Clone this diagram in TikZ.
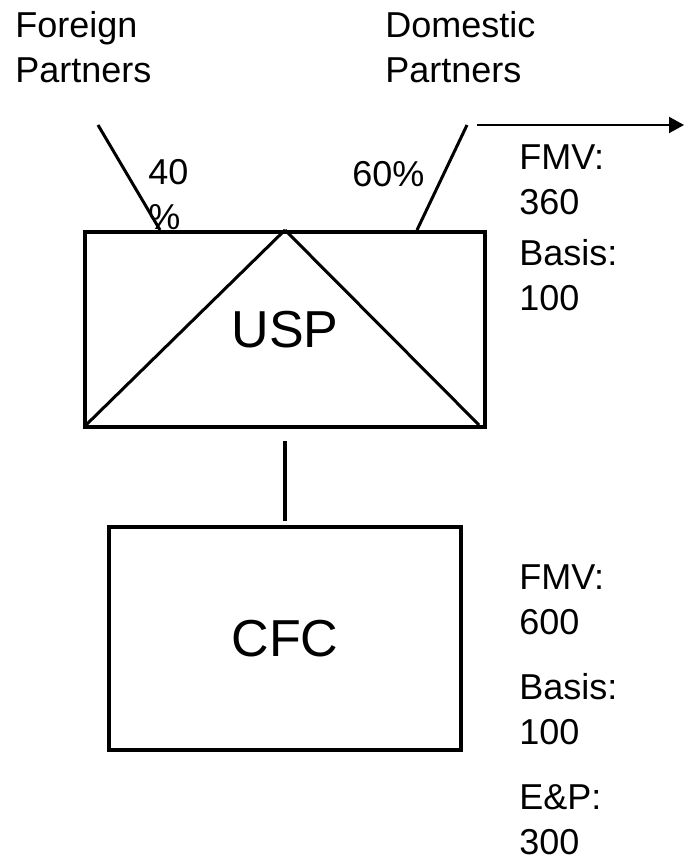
\documentclass[tikz,border=0pt]{standalone}
\usepackage{fontspec}
\setmainfont{Liberation Sans}
\usetikzlibrary{positioning,arrows.meta}

\begin{document}
\begin{tikzpicture}[x=0.5pt, y=-0.5pt]
	\useasboundingbox (0,0) rectangle (684,860);
	\tikzset{txt/.style={anchor=base west, inner sep=0pt, align=left, font=\fontsize{18}{22.5}\selectfont}}
	\begin{scope}[every node/.style={draw, line width=2pt, inner sep=0pt, font=\fontsize{26}{30}\selectfont}]
		\node[minimum width=200pt, minimum height=97.5pt] (usp) at (285,329.5) {USP};
		\node[minimum width=176pt, minimum height=111.5pt] (cfc) at (285,638.5) {CFC};
	\end{scope}
	% partners (anchored on the last line)
	\node[txt] (fp) at (15,83) {Foreign\\Partners};
	\node[txt] (dp) at (385,83) {Domestic\\Partners};
	\node[txt] (p40) at (148,230) {40\\\%};
	\node[txt] (p60) at (352,187) {60\%};
	% values
	\node[txt] (uspfmv) at (519,215) {FMV:\\360};
	\node[txt] (uspbasis) at (519,311) {Basis:\\100};
	\node[txt] (cfcfmv) at (519,634) {FMV:\\600};
	\node[txt] (cfcbasis) at (519,744) {Basis:\\100};
	\node[txt] (cfcep) at (519,854) {E\&P:\\300};
	\coordinate (fptop) at (98,125);
	\coordinate (dptop) at (467,125);
	\coordinate (arrs) at (477,125);
	\coordinate (arre) at (684,125);
	\begin{scope}[every path/.style={line width=1.5pt}]
		\draw (fptop) -- (usp.north west -| 160,0);
		\draw (dptop) -- (usp.north west -| 417,0);
		\draw (usp.north) -- ([shift={(3,-4)}]usp.south west);
		\draw (usp.north) -- ([shift={(-8,-4)}]usp.south east);
	\end{scope}
	\draw[line width=1pt, -{Triangle[length=7.5pt, width=8pt]}] (arrs) -- (arre);
	\draw[line width=2pt, shorten <=6pt, shorten >=2pt] (usp.south) -- (cfc.north);
\end{tikzpicture}
\end{document}
